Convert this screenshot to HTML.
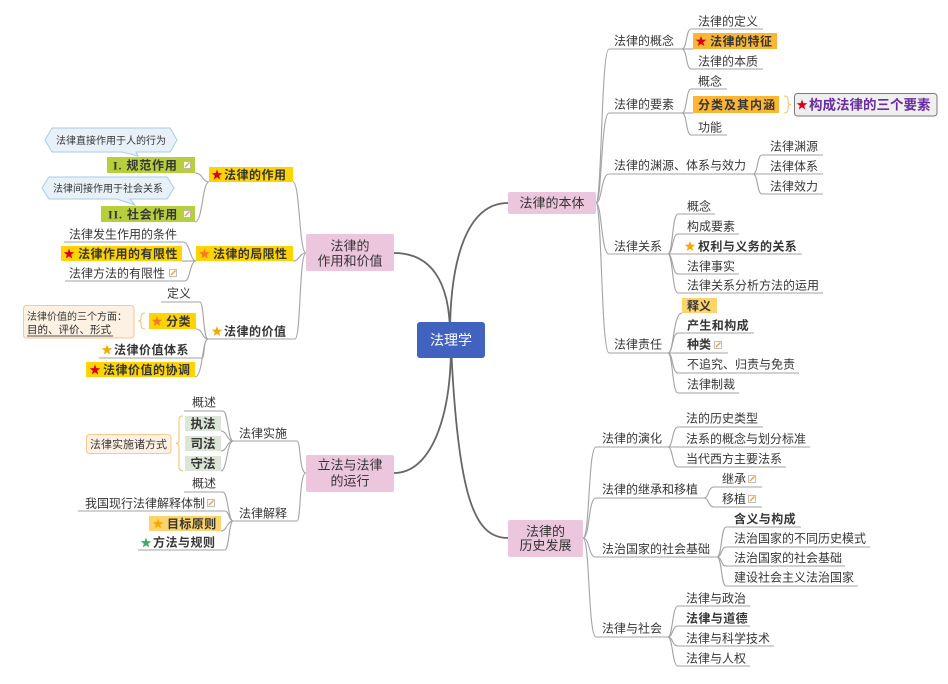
<!DOCTYPE html>
<html><head><meta charset="utf-8">
<style>
html,body{margin:0;padding:0;background:#fff;}
svg{display:block;}
.t{font-family:"Liberation Sans","Noto Sans CJK SC",sans-serif;font-size:12px;fill:#363636;}
.b{font-weight:bold;}
.s10{font-size:10px;}
.pk{font-size:13px;fill:#333;}
.ln{fill:none;stroke:#a3a3a3;stroke-width:1.1;}
.rt{fill:none;stroke:#666;stroke-width:1.8;}
.br{fill:none;stroke:#f5c27a;stroke-width:1.1;}
</style></head>
<body>
<svg width="948" height="684" viewBox="0 0 948 684" xmlns="http://www.w3.org/2000/svg">
<defs>
<polygon id="star" points="0,-5.5 1.35,-1.86 5.23,-1.7 2.19,0.71 3.23,4.45 0,2.3 -3.23,4.45 -2.19,0.71 -5.23,-1.7 -1.35,-1.86"/>
<g id="note"><rect x="0.5" y="0.5" width="7" height="7" fill="#fff" stroke="#b0b0b0" stroke-width="0.8"/><path d="M2 6 L6.5 1.5" stroke="#f0a030" stroke-width="1.4"/></g>
</defs>
<rect width="948" height="684" fill="#fff"/>

<!-- root connectors -->
<path class="rt" d="M450 335 C450 262 466 203 508 203"/>
<path class="rt" d="M450 335 C450 280 430 253 394 253"/>
<path class="rt" d="M451 345 C451 420 430 473 394 473"/>
<path class="rt" d="M451 345 C458 500 475 538 508 538"/>

<!-- secondary connectors -->
<g class="ln">
<!-- 法律的本体 -->
<path d="M596 203 C602 203 601 49 609 49 H682"/>
<path d="M596 203 C602 203 601 113 609 113 H682"/>
<path d="M596 203 C602 203 601 174 609 174 H753"/>
<path d="M596 203 C602 203 601 254 609 254 H668"/>
<path d="M596 203 C602 203 601 353 609 353 H668"/>
<path d="M682 49 C687 49 686 29 691 29 H763"/>
<path d="M682 49 H693"/>
<path d="M682 49 C687 49 686 69 691 69 H763"/>
<path d="M682 113 C687 113 686 89 691 89 H727"/>
<path d="M682 113 H693"/>
<path d="M682 113 C687 113 686 135 691 135 H727"/>
<path d="M753 174 C758 174 757 155 762 155 H823"/>
<path d="M753 174 H823"/>
<path d="M753 174 C758 174 757 194 762 194 H823"/>
<path d="M668 254 C673 254 672 214 678 214 H715"/>
<path d="M668 254 C673 254 672 234 678 234 H739"/>
<path d="M668 254 H802"/>
<path d="M668 254 C673 254 672 274 678 274 H739"/>
<path d="M668 254 C673 254 672 293 678 293 H823"/>
<path d="M668 353 C674 353 673 313 682 313"/>
<path d="M668 353 C673 353 672 333 678 333 H754"/>
<path d="M668 353 H728"/>
<path d="M668 353 C673 353 672 373 678 373 H799"/>
<path d="M668 353 C673 353 672 393 678 393 H739"/>
<!-- 法律的历史发展 -->
<path d="M583 538 C590 538 588 447 596 447 H668"/>
<path d="M583 538 C590 538 588 498 596 498 H704"/>
<path d="M583 538 C590 538 588 557 596 557 H717"/>
<path d="M583 538 C590 538 588 637 596 637 H668"/>
<path d="M668 447 C673 447 672 427 678 427 H763"/>
<path d="M668 447 H810"/>
<path d="M668 447 C673 447 672 467 678 467 H786"/>
<path d="M704 498 C709 498 708 487 714 487 H762"/>
<path d="M704 498 C709 498 708 507 714 507 H762"/>
<path d="M717 557 C722 557 721 527 726 527 H801"/>
<path d="M717 557 C722 557 721 547 726 547 H870"/>
<path d="M717 557 C722 557 721 566 726 566 H845"/>
<path d="M717 557 C722 557 721 586 726 586 H858"/>
<path d="M668 637 C673 637 672 606 678 606 H750"/>
<path d="M668 637 C673 637 672 626 678 626 H750"/>
<path d="M668 637 C673 637 672 646 678 646 H774"/>
<path d="M668 637 C673 637 672 666 678 666 H750"/>
<!-- 法律的作用和价值 -->
<path d="M306 253 C299 253 300 182 293 182"/>
<path d="M306 253 C299 253 300 261 293 261"/>
<path d="M306 253 C299 253 301 339 295 339 H208"/>
<path d="M209 182 C202 182 203 173 195 173"/>
<path d="M209 182 C202 182 203 222 195 222"/>
<path d="M196 261 C190 261 190 242 183 242 H64"/>
<path d="M196 261 H182"/>
<path d="M196 261 C190 261 190 281 185 281 H65"/>
<path d="M208 339 C203 339 204 302 200 302 H161"/>
<path d="M208 339 C202 339 203 329 196 329"/>
<path d="M208 339 C203 339 205 358 202 358 H99"/>
<path d="M208 339 C202 339 203 377 195 377"/>
<!-- 立法与法律的运行 -->
<path d="M306 473 C299 473 301 441 297 441 H233"/>
<path d="M306 473 C299 473 301 521 297 521 H233"/>
<path d="M233 441 C228 441 228 411 223 411 H184"/>
<path d="M233 441 C227 441 227 431 221 431"/>
<path d="M233 441 C227 441 227 451 221 451"/>
<path d="M233 441 C227 441 227 471 221 471"/>
<path d="M233 521 C228 521 228 492 223 492 H184"/>
<path d="M233 521 C229 521 229 511 225 511 H78"/>
<path d="M233 521 C227 521 227 531 221 531"/>
<path d="M233 521 C229 521 229 550 225 550 H138"/>
</g>

<!-- root -->
<rect x="417" y="322" width="68" height="36" rx="3" fill="#4262bf"/>
<text class="t" x="451" y="345" text-anchor="middle" style="font-size:14px;fill:#fff">法理学</text>

<!-- pink main topics -->
<rect x="508" y="192" width="88" height="22" rx="2" fill="#ecc6dd"/>
<text class="t pk" x="552" y="207.5" text-anchor="middle">法律的本体</text>
<rect x="306" y="234" width="88" height="37" rx="2" fill="#ecc6dd"/>
<text class="t pk" x="350" y="250.5" text-anchor="middle">法律的</text>
<text class="t pk" x="350" y="265.5" text-anchor="middle">作用和价值</text>
<rect x="306" y="455" width="88" height="37" rx="2" fill="#ecc6dd"/>
<text class="t pk" x="350" y="469.5" text-anchor="middle">立法与法律</text>
<text class="t pk" x="350" y="485.5" text-anchor="middle">的运行</text>
<rect x="508" y="520" width="75" height="37" rx="2" fill="#ecc6dd"/>
<text class="t pk" x="545.5" y="536" text-anchor="middle">法律的</text>
<text class="t pk" x="545.5" y="550" text-anchor="middle">历史发展</text>

<!-- ===== 法律的本体 ===== -->
<text class="t" x="614" y="45">法律的概念</text>
<text class="t" x="614" y="108.5">法律的要素</text>
<text class="t" x="614" y="169.5">法律的渊源、体系与效力</text>
<text class="t" x="614" y="250.5">法律关系</text>
<text class="t" x="614" y="348.5">法律责任</text>

<text class="t" x="698" y="25.5">法律的定义</text>
<rect x="693" y="33" width="84" height="16" fill="#fbb634"/>
<use href="#star" x="701" y="41.5" fill="#d8001b"/>
<text class="t b" x="710" y="45.5" style="letter-spacing:0.5px">法律的特征</text>
<text class="t" x="698" y="65.5">法律的本质</text>

<text class="t" x="698" y="85.5">概念</text>
<rect x="693" y="96" width="86" height="17" fill="#fbb634"/>
<text class="t b" x="698" y="109" style="letter-spacing:1px">分类及其内涵</text>
<text class="t" x="698" y="131.5">功能</text>
<path class="br" d="M784 96 Q788 96 788 100 V102 Q788 104.5 791 104.5 Q788 104.5 788 107 V109 Q788 113 784 113"/>
<rect x="794.5" y="93.5" width="142.5" height="22.5" rx="3" fill="#efefef" stroke="#7a7a7a" stroke-width="1"/>
<use href="#star" x="802" y="105" fill="#d8001b"/>
<text class="t b" x="809" y="109.5" style="font-size:13.5px;fill:#6a2c9e">构成法律的三个要素</text>

<text class="t" x="770" y="150.5">法律渊源</text>
<text class="t" x="770" y="170.5">法律体系</text>
<text class="t" x="770" y="190.5">法律效力</text>

<text class="t" x="687" y="210.5">概念</text>
<text class="t" x="687" y="230.5">构成要素</text>
<use href="#star" x="690" y="246.5" fill="#f5a800"/>
<text class="t b" x="698" y="250.5" style="letter-spacing:0.4px">权利与义务的关系</text>
<text class="t" x="687" y="270.5">法律事实</text>
<text class="t" x="687" y="289.5">法律关系分析方法的运用</text>

<rect x="682" y="298" width="35" height="15" fill="#fdd46c"/>
<text class="t b" x="687" y="310">释义</text>
<text class="t b" x="687" y="329.5" style="letter-spacing:0.4px">产生和构成</text>
<text class="t b" x="687" y="348.5">种类</text>
<use href="#note" x="714" y="341"/>
<text class="t" x="687" y="368.5">不追究、归责与免责</text>
<text class="t" x="687" y="388.5">法律制裁</text>

<!-- ===== 法律的历史发展 ===== -->
<text class="t" x="602" y="442.5">法律的演化</text>
<text class="t" x="602" y="493.5">法律的继承和移植</text>
<text class="t" x="602" y="553">法治国家的社会基础</text>
<text class="t" x="602" y="632.5">法律与社会</text>

<text class="t" x="686" y="422.5">法的历史类型</text>
<text class="t" x="686" y="443">法系的概念与划分标准</text>
<text class="t" x="686" y="463">当代西方主要法系</text>

<text class="t" x="722" y="483">继承</text>
<use href="#note" x="748" y="475"/>
<text class="t" x="722" y="503">移植</text>
<use href="#note" x="748" y="495"/>

<text class="t b" x="734" y="523" style="letter-spacing:0.4px">含义与构成</text>
<text class="t" x="734" y="542.5">法治国家的不同历史模式</text>
<text class="t" x="734" y="562">法治国家的社会基础</text>
<text class="t" x="734" y="581.5">建设社会主义法治国家</text>

<text class="t" x="686" y="602.5">法律与政治</text>
<text class="t b" x="686" y="622.5" style="letter-spacing:0.4px">法律与道德</text>
<text class="t" x="686" y="642.5">法律与科学技术</text>
<text class="t" x="686" y="662.5">法律与人权</text>

<!-- ===== 法律的作用和价值 ===== -->
<rect x="209" y="167" width="84" height="15" fill="#ffd400"/>
<use href="#star" x="217" y="175" fill="#d8001b"/>
<text class="t b" x="224" y="179" style="letter-spacing:0.5px">法律的作用</text>

<rect x="196" y="246" width="97" height="15" fill="#ffd400"/>
<use href="#star" x="204.5" y="254" fill="#f47a2a"/>
<text class="t b" x="213" y="258" style="letter-spacing:0.4px">法律的局限性</text>

<use href="#star" x="217" y="331.5" fill="#f5a800"/>
<text class="t b" x="224" y="335.5" style="letter-spacing:0.5px">法律的价值</text>

<!-- callouts -->
<path d="M52 128 H170 L177 140 L170 152 H136 L138 156 L122 152 H52 L45 140 Z" fill="#e9f1f8" stroke="#a6cde4" stroke-width="1"/>
<text class="t s10" x="111" y="144" text-anchor="middle">法律直接作用于人的行为</text>
<path d="M49 177 H167 L174 188 L167 199 H130 L135 205 L117 199 H49 L42 188 Z" fill="#e9f1f8" stroke="#a6cde4" stroke-width="1"/>
<text class="t s10" x="108" y="192" text-anchor="middle">法律间接作用于社会关系</text>

<rect x="107" y="157" width="88" height="16" fill="#b7ce3d"/>
<text class="t b" x="113" y="169.5" style="letter-spacing:0.8px"><tspan style="font-family:'Liberation Serif',serif">I.</tspan> 规范作用</text>
<use href="#note" x="183" y="161"/>
<rect x="101" y="206" width="94" height="16" fill="#b7ce3d"/>
<text class="t b" x="108" y="218.5" style="letter-spacing:0.8px"><tspan style="font-family:'Liberation Serif',serif">II.</tspan> 社会作用</text>
<use href="#note" x="183" y="210"/>

<text class="t" x="69" y="238.5">法律发生作用的条件</text>
<rect x="61" y="246" width="121" height="15" fill="#ffd400"/>
<use href="#star" x="69" y="254" fill="#d8001b"/>
<text class="t b" x="78" y="258" style="letter-spacing:0.5px">法律作用的有限性</text>
<text class="t" x="69" y="277.5">法律方法的有限性</text>
<use href="#note" x="169" y="269"/>

<text class="t" x="167" y="297.5">定义</text>
<rect x="23.5" y="305.5" width="110.5" height="32.5" rx="3" fill="#fdf1e3" stroke="#f7c98b" stroke-width="1"/>
<text class="t s10" x="27" y="320">法律价值的三个方面：</text>
<text class="t" x="27" y="333" style="font-size:10.5px;fill:#2a2a2a">目的、评价、形式</text>
<path d="M27 336 H113" stroke="#555" stroke-width="0.9"/>
<path class="br" d="M145 313 Q141 313 141 317 V319 Q141 321 138 321 Q141 321 141 323 V325 Q141 329 145 329"/>
<rect x="149" y="313" width="47" height="16" fill="#ffd400"/>
<use href="#star" x="157" y="321.5" fill="#f47a2a"/>
<text class="t b" x="166" y="325.5" style="letter-spacing:0.5px">分类</text>
<use href="#star" x="107" y="350" fill="#f5a800"/>
<text class="t b" x="114" y="354" style="letter-spacing:0.5px">法律价值体系</text>
<rect x="86" y="362" width="109" height="15" fill="#ffd400"/>
<use href="#star" x="95" y="370" fill="#d8001b"/>
<text class="t b" x="103" y="374" style="letter-spacing:0.5px">法律价值的协调</text>

<!-- ===== 立法与法律的运行 ===== -->
<text class="t" x="239" y="437.5">法律实施</text>
<text class="t" x="239" y="517.5">法律解释</text>

<text class="t" x="192" y="406.5">概述</text>
<rect x="185" y="416" width="36" height="15" fill="#dce6d6"/>
<text class="t b" x="203" y="428" text-anchor="middle" style="font-size:12.5px">执法</text>
<rect x="185" y="436" width="36" height="15" fill="#dce6d6"/>
<text class="t b" x="203" y="448" text-anchor="middle" style="font-size:12.5px">司法</text>
<rect x="185" y="456" width="36" height="15" fill="#dce6d6"/>
<text class="t b" x="203" y="468" text-anchor="middle" style="font-size:12.5px">守法</text>
<path class="br" d="M183 416 Q179 416 179 420 V440 Q179 443.5 176 443.5 Q179 443.5 179 447 V467 Q179 471 183 471"/>
<rect x="86.5" y="434.5" width="84.5" height="19" rx="3" fill="#fdf1e3" stroke="#f7c98b" stroke-width="1"/>
<text class="t" x="90" y="448" style="font-size:11px">法律实施诸方式</text>

<text class="t" x="192" y="487.5">概述</text>
<text class="t" x="85" y="507.5">我国现行法律解释体制</text>
<use href="#note" x="207" y="499"/>
<rect x="149" y="516" width="72" height="15" fill="#fdd46c"/>
<use href="#star" x="158" y="524" fill="#f5a800"/>
<text class="t b" x="167" y="528" style="letter-spacing:0.4px">目标原则</text>
<use href="#star" x="146" y="543" fill="#3daa6c"/>
<text class="t b" x="153" y="546.5" style="letter-spacing:0.5px">方法与规则</text>
</svg>
</body></html>
